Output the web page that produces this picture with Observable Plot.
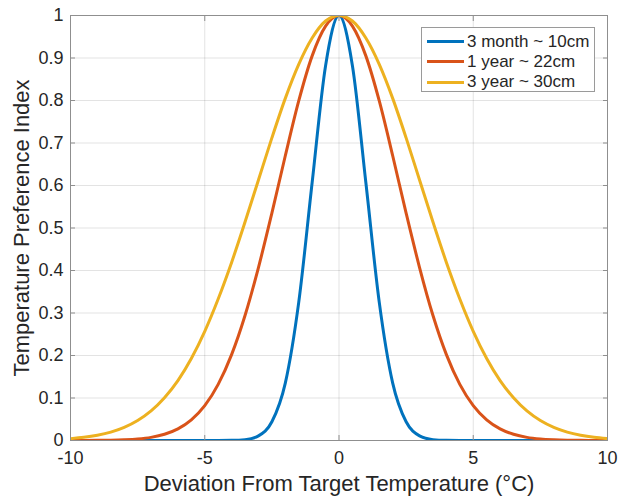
<!DOCTYPE html>
<html>
<head>
<meta charset="utf-8">
<script src="https://cdn.jsdelivr.net/npm/d3@7"></script>
<script src="https://cdn.jsdelivr.net/npm/@observablehq/plot@0.6"></script>
<style>
  html, body { margin: 0; padding: 0; background: #fff; }
  #wrap { position: relative; width: 618px; height: 498px; font-family: "Liberation Sans", Arial, Helvetica, sans-serif; color: #262626; }
  #legend { position: absolute; left: 421px; top: 27px; width: 174px; height: 65px; border: 1px solid #9a9a9a; background: #fff; box-sizing: border-box; }
  .row { position: absolute; left: 0; height: 20px; display: flex; align-items: center; font-size: 17px; white-space: nowrap; }
  .sw { width: 37px; height: 3px; margin-left: 5px; margin-right: 3px; }
</style>
</head>
<body>
<div id="wrap"></div>
<script>
// ---- data ----
const xs = [-10,-9.5,-9,-8.5,-8,-7.5,-7,-6.5,-6,-5.5,-5,-4.5,-4,-3.5,-3,-2.5,-2,-1.5,-1,-0.5,0,
            0.5,1,1.5,2,2.5,3,3.5,4,4.5,5,5.5,6,6.5,7,7.5,8,8.5,9,9.5,10];
const month3 = [0,0,0,0,0,0,0,0,0,0,0,0,0.0003,0.002,0.011,0.044,0.135,0.325,0.607,0.882,1,
                0.882,0.607,0.325,0.135,0.044,0.011,0.002,0.0003,0,0,0,0,0,0,0,0,0,0,0,0];
const year1 = [0,0.0001,0.0003,0.0007,0.0017,0.0036,0.0074,0.0146,0.0273,0.0486,0.082,0.132,0.202,0.294,0.407,0.535,0.670,0.799,0.905,0.975,1,
               0.975,0.905,0.799,0.670,0.535,0.407,0.294,0.202,0.132,0.082,0.0486,0.0273,0.0146,0.0074,0.0036,0.0017,0.0007,0.0003,0.0001,0];
const year3 = [0.0044,0.0074,0.0123,0.0197,0.0309,0.047,0.0697,0.1007,0.141,0.193,0.257,0.333,0.419,0.514,0.613,0.712,0.805,0.885,0.947,0.987,1,
               0.987,0.947,0.885,0.805,0.712,0.613,0.514,0.419,0.333,0.257,0.193,0.141,0.1007,0.0697,0.047,0.0309,0.0197,0.0123,0.0074,0.0044];
const seriesNames = ["3 month ~ 10cm", "1 year ~ 22cm", "3 year ~ 30cm"];
const seriesColors = ["#0072BD", "#D95319", "#EDB120"];
const xTicks = [-10, -5, 0, 5, 10];
const yTicks = [0, 0.1, 0.2, 0.3, 0.4, 0.5, 0.6, 0.7, 0.8, 0.9, 1];
const yTickLabels = ["0", "0.1", "0.2", "0.3", "0.4", "0.5", "0.6", "0.7", "0.8", "0.9", "1"];
const xLabel = "Deviation From Target Temperature (°C)";
const yLabel = "Temperature Preference Index";

// ---- build table ----
const seriesValues = [month3, year1, year3];
const rows = [];
seriesValues.forEach((vals, s) => {
  xs.forEach((x, i) => rows.push({series: seriesNames[s], x, y: vals[i]}));
});

const gridStyle = {stroke: "#262626", strokeOpacity: 0.13};
const chart = Plot.plot({
  width: 618,
  height: 498,
  marginLeft: 70,
  marginRight: 11,
  marginTop: 15,
  marginBottom: 58,
  style: {fontFamily: "'Liberation Sans', Arial, Helvetica, sans-serif", fontSize: "18px", color: "#262626", background: "#fff", overflow: "visible"},
  x: {domain: [-10, 10]},
  y: {domain: [0, 1]},
  color: {domain: seriesNames, range: seriesColors},
  marks: [
    Plot.gridX(xTicks, gridStyle),
    Plot.gridY(yTicks, gridStyle),
    Plot.line(rows, {x: "x", y: "y", z: "series", stroke: "series", strokeWidth: 3, curve: "monotone-x", clip: true}),
    Plot.frame({stroke: "#8f8f8f"}),
    Plot.axisX(xTicks, {anchor: "bottom", tickSize: -5, tickPadding: 16, tickFormat: d => String(d), label: null, stroke: "#8f8f8f"}),
    Plot.axisX(xTicks, {anchor: "top", tickSize: -5, tickFormat: () => "", label: null, stroke: "#8f8f8f"}),
    Plot.axisY(yTicks, {anchor: "left", tickSize: -5, tickPadding: 12, tickFormat: (d, i) => yTickLabels[i], label: null, stroke: "#8f8f8f"}),
    Plot.axisY(yTicks, {anchor: "right", tickSize: -5, tickFormat: () => "", label: null, stroke: "#8f8f8f"}),
    Plot.text([xLabel], {frameAnchor: "bottom", dy: 43, fontSize: 22, lineAnchor: "middle", textAnchor: "middle", fill: "#262626"}),
    Plot.text([yLabel], {frameAnchor: "left", dx: -49, rotate: -90, fontSize: 22, lineAnchor: "middle", textAnchor: "middle", fill: "#262626"})
  ]
});
const wrap = document.getElementById("wrap");
wrap.appendChild(chart);

// ---- legend (inside the axes, top right) ----
const legend = document.createElement("div");
legend.id = "legend";
seriesNames.forEach((name, i) => {
  const row = document.createElement("div");
  row.className = "row";
  row.style.top = (3.5 + i * 20.3) + "px";
  const sw = document.createElement("span");
  sw.className = "sw";
  sw.style.background = seriesColors[i];
  const t = document.createElement("span");
  t.textContent = name;
  row.appendChild(sw);
  row.appendChild(t);
  legend.appendChild(row);
});
wrap.appendChild(legend);
</script>
</body>
</html>
